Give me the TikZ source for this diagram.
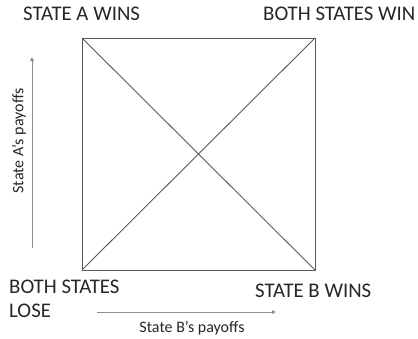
\documentclass[tikz,border=0pt]{standalone}
\usepackage{fontspec}
\setmainfont{Carlito}
\usetikzlibrary{arrows.meta, positioning, calc}

\tikzset{
  corner/.style={text=black!85, font=\fontsize{20.8}{24}\selectfont, inner sep=0pt, anchor=base west},
  axislabel/.style={text=black!85, font=\fontsize{16}{18}\selectfont, inner sep=0pt},
  axis/.style={draw=black!45, line width=0.8pt, -{Triangle[length=4pt,width=3.5pt]}},
  box/.style={draw=black!65, line width=0.9pt}
}

\begin{document}
\begin{tikzpicture}[x=1pt, y=-1pt]
\useasboundingbox (0,0) rectangle (418,338);

% payoff square
\coordinate (tl) at (82,38);
\coordinate (tr) at (315,38);
\coordinate (br) at (315,270);
\coordinate (bl) at (82,270);
\draw[box] (tl) -- (tr) -- (br) -- (bl) -- cycle;
\draw[box] (tl) -- (br);
\draw[box] (bl) -- (tr);

% outcome labels
\node[corner] (awins) at (23,20.5) {STATE A WINS};
\node[corner] (bothwin) at (263,20.5) {BOTH STATES WIN};
\node[corner] (bothlose) at (9,293) {BOTH STATES};
\node[corner] (lose) at (9,317) {LOSE};
\node[corner] (bwins) at (255,297.5) {STATE B WINS};

% axes
\coordinate (ystart) at (32,248);
\coordinate (yend) at (32,57);
\coordinate (xstart) at (97,312);
\coordinate (xend) at (276,312);
\draw[axis] (ystart) -- (yend);
\draw[axis] (xstart) -- (xend);
\node[axislabel, rotate=90] (ypay) at (19,141) {State A’s payoffs};
\node[axislabel, anchor=base] (xpay) at (192,332.5) {State B’s payoffs};
\end{tikzpicture}
\end{document}
